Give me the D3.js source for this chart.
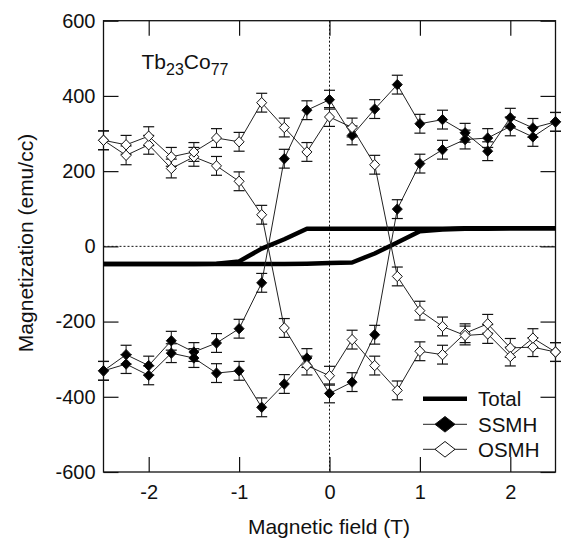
<!DOCTYPE html>
<html><head><meta charset="utf-8">
<script src="https://cdn.jsdelivr.net/npm/d3@7"></script>
<style>
html,body{margin:0;padding:0;background:#fff;}
svg{display:block;font-family:"Liberation Sans",Arial,sans-serif;}
</style></head>
<body>
<svg id="chart" width="565" height="541"></svg>
<script>
// ---- data ----
const field = [-2.5,-2.25,-2,-1.75,-1.5,-1.25,-1,-0.75,-0.5,-0.25,0,0.25,0.5,0.75,1,1.25,1.5,1.75,2,2.25,2.5];
const ssmhDec = [-331,-288,-317,-251,-281,-257,-219,-97,233,362,390,295,365,430,326,337,302,253,342,315,331];
const ssmhInc = [-331,-313,-343,-284,-297,-337,-331,-428,-366,-297,-391,-361,-235,99,220,257,284,288,319,291,331];
const osmhDec = [282,242,270,207,238,214,173,84,-217,-317,-344,-248,-317,-383,-279,-288,-231,-206,-270,-268,-281];
const osmhInc = [282,270,293,238,251,288,278,382,316,251,344,316,217,-80,-171,-213,-237,-233,-293,-244,-281];
const totalDec = [-47,-47,-47,-47,-47,-46,-40,-6,19,47,47,47,47,47,47,47,48,48,48,48,48];
const totalInc = [-47,-47,-47,-47,-47,-47,-47,-47,-47,-46,-44,-43,-19,10,40,45,47,47,48,48,48];
const errBar = 25;
const xTicks = [-2,-1,0,1,2];
const xTickLabels = ["-2","-1","0","1","2"];
const yTicks = [-600,-400,-200,0,200,400,600];
const yTickLabels = ["-600","-400","-200","0","200","400","600"];
const legendItems = ["Total","SSMH","OSMH"];

// ---- layout ----
const svg = d3.select("#chart");
const L = 103.5, R = 555.5, T = 20.7, B = 472;
const x = d3.scaleLinear().domain([-2.5,2.5]).range([L,R]);
const y = d3.scaleLinear().domain([-600,600]).range([B,T]);
const ink = "#111";

// dotted zero lines
svg.append("line").attr("x1",x(0)).attr("x2",x(0)).attr("y1",T).attr("y2",B)
  .attr("stroke",ink).attr("stroke-width",1).attr("stroke-dasharray","2,2");
svg.append("line").attr("x1",L).attr("x2",R).attr("y1",y(0)).attr("y2",y(0))
  .attr("stroke",ink).attr("stroke-width",1).attr("stroke-dasharray","2,2");

// axes
function styleAxis(g){
  g.select(".domain").remove();
  g.selectAll(".tick line").attr("stroke",ink).attr("stroke-width",1.2);
  g.selectAll(".tick text").attr("fill",ink).attr("font-size","20px")
    .attr("font-family","'Liberation Sans',Arial,sans-serif");
}
svg.append("g").attr("transform",`translate(${L},0)`)
  .call(d3.axisLeft(y).tickValues(yTicks).tickFormat((d,i)=>yTickLabels[i]).tickSize(-15).tickSizeOuter(0).tickPadding(8))
  .call(styleAxis);
svg.append("g").attr("transform",`translate(${R},0)`)
  .call(d3.axisRight(y).tickValues(yTicks).tickFormat("").tickSize(-15).tickSizeOuter(0))
  .call(styleAxis);
svg.append("g").attr("transform",`translate(0,${B})`)
  .call(d3.axisBottom(x).tickValues(xTicks).tickFormat((d,i)=>xTickLabels[i]).tickSize(-15).tickSizeOuter(0).tickPadding(13))
  .call(styleAxis);
svg.append("g").attr("transform",`translate(0,${T})`)
  .call(d3.axisTop(x).tickValues(xTicks).tickFormat("").tickSize(-15).tickSizeOuter(0))
  .call(styleAxis);

// frame
svg.append("rect").attr("x",L).attr("y",T).attr("width",R-L).attr("height",B-T)
  .attr("fill","none").attr("stroke",ink).attr("stroke-width",1.3);

// axis titles
svg.append("text").attr("x",329).attr("y",534).attr("text-anchor","middle")
  .attr("font-size","21px").attr("fill",ink).text("Magnetic field (T)");
svg.append("text").attr("transform","translate(33,243) rotate(-90)").attr("text-anchor","middle")
  .attr("font-size","21px").attr("fill",ink).text("Magnetization (emu/cc)");

// annotation
const ann = svg.append("text").attr("x",141.5).attr("y",68.5).attr("font-size","21px").attr("fill",ink);
ann.append("tspan").text("Tb");
ann.append("tspan").attr("font-size","16px").attr("dy",6.5).text("23");
ann.append("tspan").attr("dy",-6.5).text("Co");
ann.append("tspan").attr("font-size","16px").attr("dy",6.5).text("77");

// total
const line = d3.line().x((d,i)=>x(field[i])).y(d=>y(d));
[totalDec,totalInc].forEach(s=>{
  svg.append("path").datum(s).attr("d",line).attr("fill","none")
    .attr("stroke","#000").attr("stroke-width",4.5).attr("stroke-linejoin","round");
});

// series
function diamond(w,h){ return `M0,${-h}L${w},0L0,${h}L${-w},0Z`; }
const series = [
  {vals:ssmhDec, fill:"#000"},
  {vals:ssmhInc, fill:"#000"},
  {vals:osmhDec, fill:"#fff"},
  {vals:osmhInc, fill:"#fff"}
];
series.forEach(s=>{
  svg.append("path").datum(s.vals).attr("d",line).attr("fill","none")
    .attr("stroke","#222").attr("stroke-width",1);
});
series.forEach(s=>{
  const g = svg.append("g");
  s.vals.forEach((v,i)=>{
    const cx = x(field[i]);
    g.append("line").attr("x1",cx).attr("x2",cx).attr("y1",y(v-errBar)).attr("y2",y(v+errBar))
      .attr("stroke","#111").attr("stroke-width",1);
    [v-errBar,v+errBar].forEach(e=>{
      g.append("line").attr("x1",cx-5.5).attr("x2",cx+5.5).attr("y1",y(e)).attr("y2",y(e))
        .attr("stroke","#111").attr("stroke-width",1.2);
    });
  });
});
series.forEach(s=>{
  svg.append("g").selectAll("path").data(s.vals).join("path")
    .attr("transform",(d,i)=>`translate(${x(field[i])},${y(d)})`)
    .attr("d",diamond(5,5.2)).attr("fill",s.fill).attr("stroke","#111").attr("stroke-width",1);
});

// legend
const lg = svg.append("g");
const lx1 = 423, lx2 = 467, lys = [398.7,424.3,449.3];
lg.append("line").attr("x1",lx1).attr("x2",lx2).attr("y1",lys[0]).attr("y2",lys[0])
  .attr("stroke","#000").attr("stroke-width",4.5);
[1,2].forEach(k=>{
  lg.append("line").attr("x1",lx1).attr("x2",lx2).attr("y1",lys[k]).attr("y2",lys[k])
    .attr("stroke","#222").attr("stroke-width",1);
  lg.append("path").attr("transform",`translate(${(lx1+lx2)/2},${lys[k]})`)
    .attr("d",diamond(10,7.8)).attr("fill",k===1?"#000":"#fff").attr("stroke","#111").attr("stroke-width",1);
});
legendItems.forEach((t,k)=>{
  lg.append("text").attr("x",478).attr("y",lys[k]+7.2).attr("font-size","20.5px").attr("fill",ink).text(t);
});
</script>
</body></html>
